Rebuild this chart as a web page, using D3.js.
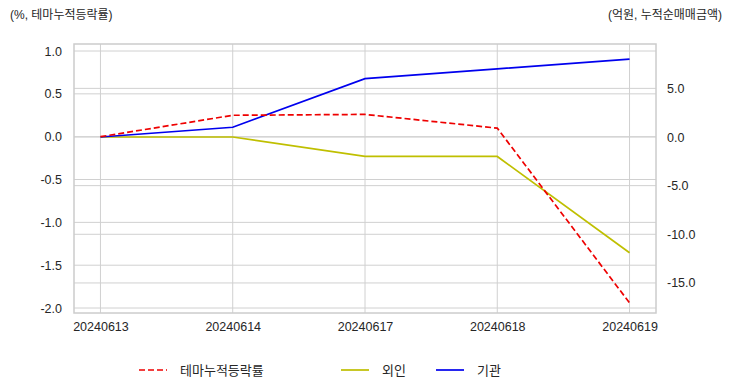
<!DOCTYPE html>
<html>
<head>
<meta charset="utf-8">
<script src="https://cdn.jsdelivr.net/npm/d3@7"></script>
<style>
  body { margin: 0; background: #fff; }
  svg text { font-family: "Liberation Sans", "Noto Sans CJK KR", sans-serif; }
</style>
</head>
<body>
<div id="chart"></div>
<script>
// dates on the x axis
const dates = ["20240613", "20240614", "20240617", "20240618", "20240619"];
// theme cumulative change (%), left axis
const themeRate = [0.0, 0.25, 0.26, 0.10, -1.94];
// foreign / institution cumulative net buying (억원), right axis
const foreign = [0.0, 0.0, -2.0, -2.0, -11.9];
const institution = [0.0, 1.0, 6.0, 7.0, 8.0];

const leftTicks = [1.0, 0.5, 0.0, -0.5, -1.0, -1.5, -2.0];
const rightTicks = [5.0, 0.0, -5.0, -10.0, -15.0];

const W = 732, H = 392;
const m = { left: 74, right: 76, top: 44, bottom: 79 };

const svg = d3.select("#chart").append("svg")
  .attr("width", W).attr("height", H);

const x = d3.scaleLinear().domain([-0.2, 4.2]).range([m.left, W - m.right]);
const yL = d3.scaleLinear().domain([-2.058, 1.082]).range([H - m.bottom, m.top]);
const yR = d3.scaleLinear().domain([-18.09, 9.56]).range([H - m.bottom, m.top]);

const grid = "#d0d0d0";
const fmt = d => d.toFixed(1); // plain hyphen minus like the original

// grid lines
svg.append("g").selectAll("line").data(dates).join("line")
  .attr("x1", (d, i) => x(i)).attr("x2", (d, i) => x(i))
  .attr("y1", m.top).attr("y2", H - m.bottom)
  .attr("stroke", grid).attr("stroke-width", 1);
svg.append("g").selectAll("line").data(leftTicks).join("line")
  .attr("x1", m.left).attr("x2", W - m.right)
  .attr("y1", d => yL(d)).attr("y2", d => yL(d))
  .attr("stroke", grid).attr("stroke-width", 1);
svg.append("g").selectAll("line").data(rightTicks).join("line")
  .attr("x1", m.left).attr("x2", W - m.right)
  .attr("y1", d => yR(d)).attr("y2", d => yR(d))
  .attr("stroke", grid).attr("stroke-width", 1);

// frame
svg.append("rect")
  .attr("x", m.left).attr("y", m.top)
  .attr("width", W - m.left - m.right).attr("height", H - m.top - m.bottom)
  .attr("fill", "none").attr("stroke", "#cccccc").attr("stroke-width", 1.5);

// axes
const tickStyle = g => {
  g.select(".domain").remove();
  g.selectAll(".tick line").remove();
  g.selectAll("text").attr("fill", "#262626").style("font-size", "12.5px");
};
svg.append("g").attr("transform", `translate(${m.left},0)`)
  .call(d3.axisLeft(yL).tickValues(leftTicks).tickFormat(fmt).tickPadding(6))
  .call(tickStyle);
svg.append("g").attr("transform", `translate(${W - m.right},0)`)
  .call(d3.axisRight(yR).tickValues(rightTicks).tickFormat(fmt).tickPadding(5))
  .call(tickStyle);
svg.append("g").attr("transform", `translate(0,${H - m.bottom})`)
  .call(d3.axisBottom(x).tickValues(d3.range(dates.length)).tickFormat(i => dates[i]).tickPadding(3))
  .call(tickStyle);

// lines
const lineL = d3.line().x((d, i) => x(i)).y(d => yL(d));
const lineR = d3.line().x((d, i) => x(i)).y(d => yR(d));

svg.append("path").datum(foreign).attr("d", lineR)
  .attr("fill", "none").attr("stroke", "#bfbf00").attr("stroke-width", 1.7);
svg.append("path").datum(institution).attr("d", lineR)
  .attr("fill", "none").attr("stroke", "#0000ee").attr("stroke-width", 1.7);
svg.append("path").datum(themeRate).attr("d", lineL)
  .attr("fill", "none").attr("stroke", "#ee0000").attr("stroke-width", 1.7)
  .attr("stroke-dasharray", "6,3");

// axis titles
svg.append("text").attr("x", 10).attr("y", 19)
  .style("font-size", "12px").attr("fill", "#262626")
  .text("(%, 테마누적등락률)");
svg.append("text").attr("x", 722).attr("y", 19).attr("text-anchor", "end")
  .style("font-size", "12px").attr("fill", "#262626")
  .text("(억원, 누적순매매금액)");

// legend
const legend = [
  { name: "테마누적등락률", color: "#ee0000", dash: "6,3", x: 139 },
  { name: "외인", color: "#bfbf00", dash: null, x: 341 },
  { name: "기관", color: "#0000ee", dash: null, x: 436 }
];
const lg = svg.append("g").selectAll("g").data(legend).join("g")
  .attr("transform", d => `translate(${d.x},370)`);
lg.append("line").attr("x1", 0).attr("x2", 28)
  .attr("stroke", d => d.color).attr("stroke-width", 1.7)
  .attr("stroke-dasharray", d => d.dash);
lg.append("text").attr("x", 41).attr("dy", "0.35em")
  .style("font-size", "13px").attr("fill", "#262626")
  .text(d => d.name);
</script>
</body>
</html>
